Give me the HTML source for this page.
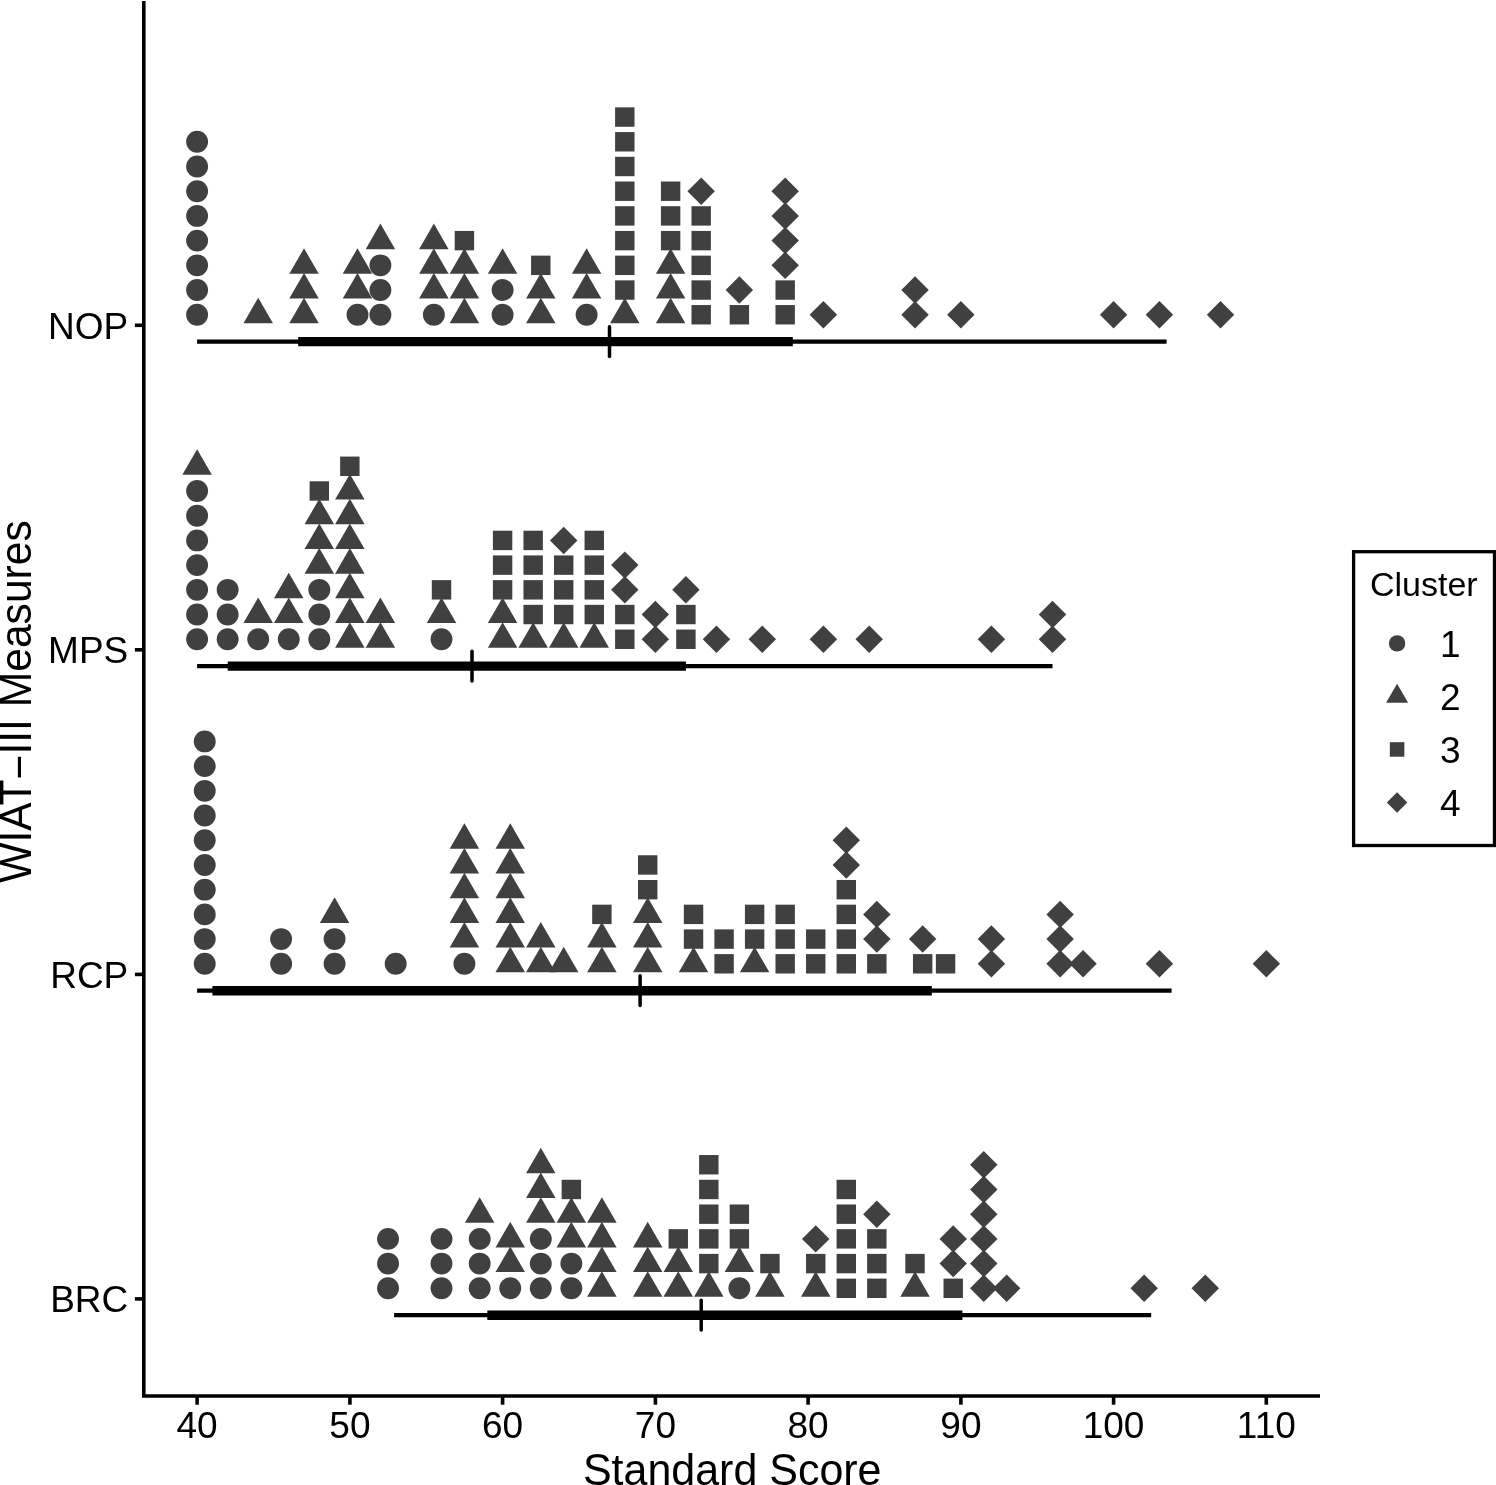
<!DOCTYPE html>
<html><head><meta charset="utf-8"><title>WIAT-III Measures</title>
<style>
html,body{margin:0;padding:0;background:#fff;}
body{width:1496px;height:1485px;overflow:hidden;}
svg{display:block;will-change:transform;}
text{font-family:"Liberation Sans",sans-serif;fill:#000;}
</style></head><body>
<svg width="1496" height="1485" viewBox="0 0 1496 1485">
<rect x="0" y="0" width="1496" height="1485" fill="#fff"/>
<g stroke="#000" stroke-width="3.6" fill="none">
<path d="M143.8 1V1396H1320" stroke-linejoin="miter"/>
<path d="M197.1 1396V1404.7"/>
<path d="M349.9 1396V1404.7"/>
<path d="M502.6 1396V1404.7"/>
<path d="M655.4 1396V1404.7"/>
<path d="M808.1 1396V1404.7"/>
<path d="M960.9 1396V1404.7"/>
<path d="M1113.6 1396V1404.7"/>
<path d="M1266.3 1396V1404.7"/>
<path d="M134.9 325.3H143.8"/>
<path d="M134.9 649.8H143.8"/>
<path d="M134.9 974.4H143.8"/>
<path d="M134.9 1298.9H143.8"/>
</g>
<g font-size="37" text-anchor="middle">
<text x="197.1" y="1438.4">40</text>
<text x="349.9" y="1438.4">50</text>
<text x="502.6" y="1438.4">60</text>
<text x="655.4" y="1438.4">70</text>
<text x="808.1" y="1438.4">80</text>
<text x="960.9" y="1438.4">90</text>
<text x="1113.6" y="1438.4">100</text>
<text x="1266.3" y="1438.4">110</text>
</g>
<g font-size="37" text-anchor="end">
<text x="128.3" y="338.7">NOP</text>
<text x="128.3" y="663.2">MPS</text>
<text x="128.3" y="987.8">RCP</text>
<text x="128.3" y="1312.3">BRC</text>
</g>
<text transform="translate(732.2 1485.1) scale(1 1.03)" font-size="43" text-anchor="middle">Standard Score</text>
<text transform="translate(31.3 701.5) rotate(-90) scale(1 1.03)" font-size="42.6" text-anchor="middle">WIAT<tspan dy="2.8">−</tspan><tspan dy="-2.8">III Measures</tspan></text>
<g stroke="#000" fill="none">
<path d="M197.1 341.6H1166.6" stroke-width="4.3"/>
<path d="M298.2 341.6H792.8" stroke-width="9.4"/>
<path d="M609.5 326.7V356.5" stroke-width="3.5" stroke-linecap="round"/>
<path d="M197.1 666.1H1052.5" stroke-width="4.3"/>
<path d="M227.7 666.1H685.9" stroke-width="9.4"/>
<path d="M472.0 651.2V681.0" stroke-width="3.5" stroke-linecap="round"/>
<path d="M197.1 990.7H1171.6" stroke-width="4.3"/>
<path d="M212.4 990.7H931.8" stroke-width="9.4"/>
<path d="M640.1 975.8V1005.6" stroke-width="3.5" stroke-linecap="round"/>
<path d="M394.1 1315.2H1151.2" stroke-width="4.3"/>
<path d="M487.3 1315.2H962.4" stroke-width="9.4"/>
<path d="M701.2 1300.3V1330.1" stroke-width="3.5" stroke-linecap="round"/>
</g>
<g fill="#404040">
<circle cx="197.1" cy="314.75" r="10.95"/>
<circle cx="197.1" cy="290.04" r="10.95"/>
<circle cx="197.1" cy="265.33" r="10.95"/>
<circle cx="197.1" cy="240.62" r="10.95"/>
<circle cx="197.1" cy="215.91" r="10.95"/>
<circle cx="197.1" cy="191.2" r="10.95"/>
<circle cx="197.1" cy="166.49" r="10.95"/>
<circle cx="197.1" cy="141.78" r="10.95"/>
<path d="M258.2 297.72L272.95 323.26L243.45 323.26Z"/>
<path d="M304.02 297.72L318.77 323.26L289.28 323.26Z"/>
<path d="M304.02 273.01L318.77 298.55L289.28 298.55Z"/>
<path d="M304.02 248.3L318.77 273.84L289.28 273.84Z"/>
<circle cx="357.49" cy="314.75" r="10.95"/>
<path d="M357.49 273.01L372.23 298.55L342.74 298.55Z"/>
<path d="M357.49 248.3L372.23 273.84L342.74 273.84Z"/>
<circle cx="380.4" cy="314.75" r="10.95"/>
<circle cx="380.4" cy="290.04" r="10.95"/>
<circle cx="380.4" cy="265.33" r="10.95"/>
<path d="M380.4 223.59L395.15 249.13L365.65 249.13Z"/>
<circle cx="433.86" cy="314.75" r="10.95"/>
<path d="M433.86 273.01L448.61 298.55L419.12 298.55Z"/>
<path d="M433.86 248.3L448.61 273.84L419.12 273.84Z"/>
<path d="M433.86 223.59L448.61 249.13L419.12 249.13Z"/>
<path d="M464.41 297.72L479.16 323.26L449.67 323.26Z"/>
<path d="M464.41 273.01L479.16 298.55L449.67 298.55Z"/>
<path d="M464.41 248.3L479.16 273.84L449.67 273.84Z"/>
<rect x="454.71" y="230.92" width="19.41" height="19.41"/>
<circle cx="502.6" cy="314.75" r="10.95"/>
<circle cx="502.6" cy="290.04" r="10.95"/>
<path d="M502.6 248.3L517.35 273.84L487.85 273.84Z"/>
<path d="M540.79 297.72L555.53 323.26L526.04 323.26Z"/>
<path d="M540.79 273.01L555.53 298.55L526.04 298.55Z"/>
<rect x="531.08" y="255.63" width="19.41" height="19.41"/>
<circle cx="586.61" cy="314.75" r="10.95"/>
<path d="M586.61 273.01L601.36 298.55L571.87 298.55Z"/>
<path d="M586.61 248.3L601.36 273.84L571.87 273.84Z"/>
<path d="M624.8 297.72L639.55 323.26L610.05 323.26Z"/>
<rect x="615.1" y="280.34" width="19.41" height="19.41"/>
<rect x="615.1" y="255.63" width="19.41" height="19.41"/>
<rect x="615.1" y="230.92" width="19.41" height="19.41"/>
<rect x="615.1" y="206.21" width="19.41" height="19.41"/>
<rect x="615.1" y="181.5" width="19.41" height="19.41"/>
<rect x="615.1" y="156.79" width="19.41" height="19.41"/>
<rect x="615.1" y="132.08" width="19.41" height="19.41"/>
<rect x="615.1" y="107.37" width="19.41" height="19.41"/>
<path d="M670.62 297.72L685.37 323.26L655.88 323.26Z"/>
<path d="M670.62 273.01L685.37 298.55L655.88 298.55Z"/>
<path d="M670.62 248.3L685.37 273.84L655.88 273.84Z"/>
<rect x="660.92" y="230.92" width="19.41" height="19.41"/>
<rect x="660.92" y="206.21" width="19.41" height="19.41"/>
<rect x="660.92" y="181.5" width="19.41" height="19.41"/>
<rect x="691.47" y="305.05" width="19.41" height="19.41"/>
<rect x="691.47" y="280.34" width="19.41" height="19.41"/>
<rect x="691.47" y="255.63" width="19.41" height="19.41"/>
<rect x="691.47" y="230.92" width="19.41" height="19.41"/>
<rect x="691.47" y="206.21" width="19.41" height="19.41"/>
<path d="M701.17 177.48L714.9 191.2L701.17 204.92L687.45 191.2Z"/>
<rect x="729.66" y="305.05" width="19.41" height="19.41"/>
<path d="M739.36 276.32L753.09 290.04L739.36 303.76L725.64 290.04Z"/>
<rect x="775.48" y="305.05" width="19.41" height="19.41"/>
<rect x="775.48" y="280.34" width="19.41" height="19.41"/>
<path d="M785.19 251.61L798.91 265.33L785.19 279.05L771.46 265.33Z"/>
<path d="M785.19 226.9L798.91 240.62L785.19 254.34L771.46 240.62Z"/>
<path d="M785.19 202.19L798.91 215.91L785.19 229.63L771.46 215.91Z"/>
<path d="M785.19 177.48L798.91 191.2L785.19 204.92L771.46 191.2Z"/>
<path d="M823.38 301.03L837.1 314.75L823.38 328.47L809.65 314.75Z"/>
<path d="M915.03 301.03L928.75 314.75L915.03 328.47L901.3 314.75Z"/>
<path d="M915.03 276.32L928.75 290.04L915.03 303.76L901.3 290.04Z"/>
<path d="M960.85 301.03L974.57 314.75L960.85 328.47L947.13 314.75Z"/>
<path d="M1113.6 301.03L1127.32 314.75L1113.6 328.47L1099.88 314.75Z"/>
<path d="M1159.42 301.03L1173.15 314.75L1159.42 328.47L1145.7 314.75Z"/>
<path d="M1220.53 301.03L1234.25 314.75L1220.53 328.47L1206.8 314.75Z"/>
<circle cx="197.1" cy="639.25" r="10.95"/>
<circle cx="197.1" cy="614.54" r="10.95"/>
<circle cx="197.1" cy="589.83" r="10.95"/>
<circle cx="197.1" cy="565.12" r="10.95"/>
<circle cx="197.1" cy="540.41" r="10.95"/>
<circle cx="197.1" cy="515.7" r="10.95"/>
<circle cx="197.1" cy="490.99" r="10.95"/>
<path d="M197.1 449.25L211.85 474.79L182.35 474.79Z"/>
<circle cx="227.65" cy="639.25" r="10.95"/>
<circle cx="227.65" cy="614.54" r="10.95"/>
<circle cx="227.65" cy="589.83" r="10.95"/>
<circle cx="258.2" cy="639.25" r="10.95"/>
<path d="M258.2 597.51L272.95 623.05L243.45 623.05Z"/>
<circle cx="288.75" cy="639.25" r="10.95"/>
<path d="M288.75 597.51L303.5 623.05L274 623.05Z"/>
<path d="M288.75 572.8L303.5 598.34L274 598.34Z"/>
<circle cx="319.3" cy="639.25" r="10.95"/>
<circle cx="319.3" cy="614.54" r="10.95"/>
<circle cx="319.3" cy="589.83" r="10.95"/>
<path d="M319.3 548.09L334.05 573.63L304.55 573.63Z"/>
<path d="M319.3 523.38L334.05 548.92L304.55 548.92Z"/>
<path d="M319.3 498.67L334.05 524.21L304.55 524.21Z"/>
<rect x="309.6" y="481.29" width="19.41" height="19.41"/>
<path d="M349.85 622.22L364.6 647.76L335.1 647.76Z"/>
<path d="M349.85 597.51L364.6 623.05L335.1 623.05Z"/>
<path d="M349.85 572.8L364.6 598.34L335.1 598.34Z"/>
<path d="M349.85 548.09L364.6 573.63L335.1 573.63Z"/>
<path d="M349.85 523.38L364.6 548.92L335.1 548.92Z"/>
<path d="M349.85 498.67L364.6 524.21L335.1 524.21Z"/>
<path d="M349.85 473.96L364.6 499.5L335.1 499.5Z"/>
<rect x="340.15" y="456.58" width="19.41" height="19.41"/>
<path d="M380.4 622.22L395.15 647.76L365.65 647.76Z"/>
<path d="M380.4 597.51L395.15 623.05L365.65 623.05Z"/>
<circle cx="441.5" cy="639.25" r="10.95"/>
<path d="M441.5 597.51L456.25 623.05L426.75 623.05Z"/>
<rect x="431.8" y="580.13" width="19.41" height="19.41"/>
<path d="M502.6 622.22L517.35 647.76L487.85 647.76Z"/>
<path d="M502.6 597.51L517.35 623.05L487.85 623.05Z"/>
<rect x="492.9" y="580.13" width="19.41" height="19.41"/>
<rect x="492.9" y="555.42" width="19.41" height="19.41"/>
<rect x="492.9" y="530.71" width="19.41" height="19.41"/>
<path d="M533.15 622.22L547.9 647.76L518.4 647.76Z"/>
<rect x="523.45" y="604.84" width="19.41" height="19.41"/>
<rect x="523.45" y="580.13" width="19.41" height="19.41"/>
<rect x="523.45" y="555.42" width="19.41" height="19.41"/>
<rect x="523.45" y="530.71" width="19.41" height="19.41"/>
<path d="M563.7 622.22L578.45 647.76L548.95 647.76Z"/>
<rect x="554" y="604.84" width="19.41" height="19.41"/>
<rect x="554" y="580.13" width="19.41" height="19.41"/>
<rect x="554" y="555.42" width="19.41" height="19.41"/>
<path d="M563.7 526.69L577.42 540.41L563.7 554.13L549.98 540.41Z"/>
<path d="M594.25 622.22L609 647.76L579.5 647.76Z"/>
<rect x="584.55" y="604.84" width="19.41" height="19.41"/>
<rect x="584.55" y="580.13" width="19.41" height="19.41"/>
<rect x="584.55" y="555.42" width="19.41" height="19.41"/>
<rect x="584.55" y="530.71" width="19.41" height="19.41"/>
<rect x="615.1" y="629.55" width="19.41" height="19.41"/>
<rect x="615.1" y="604.84" width="19.41" height="19.41"/>
<path d="M624.8 576.11L638.52 589.83L624.8 603.55L611.08 589.83Z"/>
<path d="M624.8 551.4L638.52 565.12L624.8 578.84L611.08 565.12Z"/>
<path d="M655.35 625.53L669.07 639.25L655.35 652.97L641.63 639.25Z"/>
<path d="M655.35 600.82L669.07 614.54L655.35 628.26L641.63 614.54Z"/>
<rect x="676.2" y="629.55" width="19.41" height="19.41"/>
<rect x="676.2" y="604.84" width="19.41" height="19.41"/>
<path d="M685.9 576.11L699.62 589.83L685.9 603.55L672.18 589.83Z"/>
<path d="M716.45 625.53L730.17 639.25L716.45 652.97L702.73 639.25Z"/>
<path d="M762.28 625.53L776 639.25L762.28 652.97L748.55 639.25Z"/>
<path d="M823.38 625.53L837.1 639.25L823.38 652.97L809.65 639.25Z"/>
<path d="M869.2 625.53L882.92 639.25L869.2 652.97L855.48 639.25Z"/>
<path d="M991.4 625.53L1005.12 639.25L991.4 652.97L977.68 639.25Z"/>
<path d="M1052.5 625.53L1066.22 639.25L1052.5 652.97L1038.78 639.25Z"/>
<path d="M1052.5 600.82L1066.22 614.54L1052.5 628.26L1038.78 614.54Z"/>
<circle cx="204.74" cy="963.8" r="10.95"/>
<circle cx="204.74" cy="939.09" r="10.95"/>
<circle cx="204.74" cy="914.38" r="10.95"/>
<circle cx="204.74" cy="889.67" r="10.95"/>
<circle cx="204.74" cy="864.96" r="10.95"/>
<circle cx="204.74" cy="840.25" r="10.95"/>
<circle cx="204.74" cy="815.54" r="10.95"/>
<circle cx="204.74" cy="790.83" r="10.95"/>
<circle cx="204.74" cy="766.12" r="10.95"/>
<circle cx="204.74" cy="741.41" r="10.95"/>
<circle cx="281.11" cy="963.8" r="10.95"/>
<circle cx="281.11" cy="939.09" r="10.95"/>
<circle cx="334.57" cy="963.8" r="10.95"/>
<circle cx="334.57" cy="939.09" r="10.95"/>
<path d="M334.57 897.35L349.32 922.89L319.83 922.89Z"/>
<circle cx="395.68" cy="963.8" r="10.95"/>
<circle cx="464.41" cy="963.8" r="10.95"/>
<path d="M464.41 922.06L479.16 947.6L449.67 947.6Z"/>
<path d="M464.41 897.35L479.16 922.89L449.67 922.89Z"/>
<path d="M464.41 872.64L479.16 898.18L449.67 898.18Z"/>
<path d="M464.41 847.93L479.16 873.47L449.67 873.47Z"/>
<path d="M464.41 823.22L479.16 848.76L449.67 848.76Z"/>
<path d="M510.24 946.77L524.98 972.31L495.49 972.31Z"/>
<path d="M510.24 922.06L524.98 947.6L495.49 947.6Z"/>
<path d="M510.24 897.35L524.98 922.89L495.49 922.89Z"/>
<path d="M510.24 872.64L524.98 898.18L495.49 898.18Z"/>
<path d="M510.24 847.93L524.98 873.47L495.49 873.47Z"/>
<path d="M510.24 823.22L524.98 848.76L495.49 848.76Z"/>
<path d="M540.79 946.77L555.53 972.31L526.04 972.31Z"/>
<path d="M540.79 922.06L555.53 947.6L526.04 947.6Z"/>
<path d="M563.7 946.77L578.45 972.31L548.95 972.31Z"/>
<path d="M601.89 946.77L616.63 972.31L587.14 972.31Z"/>
<path d="M601.89 922.06L616.63 947.6L587.14 947.6Z"/>
<rect x="592.18" y="904.68" width="19.41" height="19.41"/>
<path d="M647.71 946.77L662.46 972.31L632.97 972.31Z"/>
<path d="M647.71 922.06L662.46 947.6L632.97 947.6Z"/>
<path d="M647.71 897.35L662.46 922.89L632.97 922.89Z"/>
<rect x="638.01" y="879.97" width="19.41" height="19.41"/>
<rect x="638.01" y="855.26" width="19.41" height="19.41"/>
<path d="M693.54 946.77L708.28 972.31L678.79 972.31Z"/>
<rect x="683.83" y="929.39" width="19.41" height="19.41"/>
<rect x="683.83" y="904.68" width="19.41" height="19.41"/>
<rect x="714.38" y="954.1" width="19.41" height="19.41"/>
<rect x="714.38" y="929.39" width="19.41" height="19.41"/>
<path d="M754.64 946.77L769.38 972.31L739.89 972.31Z"/>
<rect x="744.93" y="929.39" width="19.41" height="19.41"/>
<rect x="744.93" y="904.68" width="19.41" height="19.41"/>
<rect x="775.48" y="954.1" width="19.41" height="19.41"/>
<rect x="775.48" y="929.39" width="19.41" height="19.41"/>
<rect x="775.48" y="904.68" width="19.41" height="19.41"/>
<rect x="806.03" y="954.1" width="19.41" height="19.41"/>
<rect x="806.03" y="929.39" width="19.41" height="19.41"/>
<rect x="836.58" y="954.1" width="19.41" height="19.41"/>
<rect x="836.58" y="929.39" width="19.41" height="19.41"/>
<rect x="836.58" y="904.68" width="19.41" height="19.41"/>
<rect x="836.58" y="879.97" width="19.41" height="19.41"/>
<path d="M846.29 851.24L860.01 864.96L846.29 878.68L832.56 864.96Z"/>
<path d="M846.29 826.53L860.01 840.25L846.29 853.97L832.56 840.25Z"/>
<rect x="867.13" y="954.1" width="19.41" height="19.41"/>
<path d="M876.84 925.37L890.56 939.09L876.84 952.81L863.11 939.09Z"/>
<path d="M876.84 900.66L890.56 914.38L876.84 928.1L863.11 914.38Z"/>
<rect x="912.96" y="954.1" width="19.41" height="19.41"/>
<path d="M922.66 925.37L936.39 939.09L922.66 952.81L908.94 939.09Z"/>
<rect x="935.87" y="954.1" width="19.41" height="19.41"/>
<path d="M991.4 950.08L1005.12 963.8L991.4 977.52L977.68 963.8Z"/>
<path d="M991.4 925.37L1005.12 939.09L991.4 952.81L977.68 939.09Z"/>
<path d="M1060.14 950.08L1073.86 963.8L1060.14 977.52L1046.41 963.8Z"/>
<path d="M1060.14 925.37L1073.86 939.09L1060.14 952.81L1046.41 939.09Z"/>
<path d="M1060.14 900.66L1073.86 914.38L1060.14 928.1L1046.41 914.38Z"/>
<path d="M1083.05 950.08L1096.77 963.8L1083.05 977.52L1069.33 963.8Z"/>
<path d="M1159.42 950.08L1173.15 963.8L1159.42 977.52L1145.7 963.8Z"/>
<path d="M1266.35 950.08L1280.07 963.8L1266.35 977.52L1252.63 963.8Z"/>
<circle cx="388.04" cy="1288.3" r="10.95"/>
<circle cx="388.04" cy="1263.59" r="10.95"/>
<circle cx="388.04" cy="1238.88" r="10.95"/>
<circle cx="441.5" cy="1288.3" r="10.95"/>
<circle cx="441.5" cy="1263.59" r="10.95"/>
<circle cx="441.5" cy="1238.88" r="10.95"/>
<circle cx="479.69" cy="1288.3" r="10.95"/>
<circle cx="479.69" cy="1263.59" r="10.95"/>
<circle cx="479.69" cy="1238.88" r="10.95"/>
<path d="M479.69 1197.14L494.43 1222.68L464.94 1222.68Z"/>
<circle cx="510.24" cy="1288.3" r="10.95"/>
<path d="M510.24 1246.56L524.98 1272.1L495.49 1272.1Z"/>
<path d="M510.24 1221.85L524.98 1247.39L495.49 1247.39Z"/>
<circle cx="540.79" cy="1288.3" r="10.95"/>
<circle cx="540.79" cy="1263.59" r="10.95"/>
<circle cx="540.79" cy="1238.88" r="10.95"/>
<path d="M540.79 1197.14L555.53 1222.68L526.04 1222.68Z"/>
<path d="M540.79 1172.43L555.53 1197.97L526.04 1197.97Z"/>
<path d="M540.79 1147.72L555.53 1173.26L526.04 1173.26Z"/>
<circle cx="571.34" cy="1288.3" r="10.95"/>
<circle cx="571.34" cy="1263.59" r="10.95"/>
<path d="M571.34 1221.85L586.08 1247.39L556.59 1247.39Z"/>
<path d="M571.34 1197.14L586.08 1222.68L556.59 1222.68Z"/>
<rect x="561.63" y="1179.76" width="19.41" height="19.41"/>
<path d="M601.89 1271.27L616.63 1296.81L587.14 1296.81Z"/>
<path d="M601.89 1246.56L616.63 1272.1L587.14 1272.1Z"/>
<path d="M601.89 1221.85L616.63 1247.39L587.14 1247.39Z"/>
<path d="M601.89 1197.14L616.63 1222.68L587.14 1222.68Z"/>
<path d="M647.71 1271.27L662.46 1296.81L632.97 1296.81Z"/>
<path d="M647.71 1246.56L662.46 1272.1L632.97 1272.1Z"/>
<path d="M647.71 1221.85L662.46 1247.39L632.97 1247.39Z"/>
<path d="M678.26 1271.27L693.01 1296.81L663.52 1296.81Z"/>
<path d="M678.26 1246.56L693.01 1272.1L663.52 1272.1Z"/>
<rect x="668.56" y="1229.18" width="19.41" height="19.41"/>
<path d="M708.81 1271.27L723.56 1296.81L694.07 1296.81Z"/>
<rect x="699.11" y="1253.89" width="19.41" height="19.41"/>
<rect x="699.11" y="1229.18" width="19.41" height="19.41"/>
<rect x="699.11" y="1204.47" width="19.41" height="19.41"/>
<rect x="699.11" y="1179.76" width="19.41" height="19.41"/>
<rect x="699.11" y="1155.05" width="19.41" height="19.41"/>
<circle cx="739.36" cy="1288.3" r="10.95"/>
<path d="M739.36 1246.56L754.11 1272.1L724.62 1272.1Z"/>
<rect x="729.66" y="1229.18" width="19.41" height="19.41"/>
<rect x="729.66" y="1204.47" width="19.41" height="19.41"/>
<path d="M769.91 1271.27L784.66 1296.81L755.17 1296.81Z"/>
<rect x="760.21" y="1253.89" width="19.41" height="19.41"/>
<path d="M815.74 1271.27L830.48 1296.81L800.99 1296.81Z"/>
<rect x="806.03" y="1253.89" width="19.41" height="19.41"/>
<path d="M815.74 1225.16L829.46 1238.88L815.74 1252.6L802.01 1238.88Z"/>
<rect x="836.58" y="1278.6" width="19.41" height="19.41"/>
<rect x="836.58" y="1253.89" width="19.41" height="19.41"/>
<rect x="836.58" y="1229.18" width="19.41" height="19.41"/>
<rect x="836.58" y="1204.47" width="19.41" height="19.41"/>
<rect x="836.58" y="1179.76" width="19.41" height="19.41"/>
<rect x="867.13" y="1278.6" width="19.41" height="19.41"/>
<rect x="867.13" y="1253.89" width="19.41" height="19.41"/>
<rect x="867.13" y="1229.18" width="19.41" height="19.41"/>
<path d="M876.84 1200.45L890.56 1214.17L876.84 1227.89L863.11 1214.17Z"/>
<path d="M915.03 1271.27L929.77 1296.81L900.28 1296.81Z"/>
<rect x="905.32" y="1253.89" width="19.41" height="19.41"/>
<rect x="943.51" y="1278.6" width="19.41" height="19.41"/>
<path d="M953.21 1249.87L966.94 1263.59L953.21 1277.31L939.49 1263.59Z"/>
<path d="M953.21 1225.16L966.94 1238.88L953.21 1252.6L939.49 1238.88Z"/>
<path d="M983.76 1274.58L997.49 1288.3L983.76 1302.02L970.04 1288.3Z"/>
<path d="M983.76 1249.87L997.49 1263.59L983.76 1277.31L970.04 1263.59Z"/>
<path d="M983.76 1225.16L997.49 1238.88L983.76 1252.6L970.04 1238.88Z"/>
<path d="M983.76 1200.45L997.49 1214.17L983.76 1227.89L970.04 1214.17Z"/>
<path d="M983.76 1175.74L997.49 1189.46L983.76 1203.18L970.04 1189.46Z"/>
<path d="M983.76 1151.03L997.49 1164.75L983.76 1178.47L970.04 1164.75Z"/>
<path d="M1006.68 1274.58L1020.4 1288.3L1006.68 1302.02L992.95 1288.3Z"/>
<path d="M1144.15 1274.58L1157.87 1288.3L1144.15 1302.02L1130.43 1288.3Z"/>
<path d="M1205.25 1274.58L1218.97 1288.3L1205.25 1302.02L1191.53 1288.3Z"/>
</g>
<rect x="1353.6" y="551.7" width="140.9" height="293.8" fill="#fff" stroke="#000" stroke-width="3.3"/>
<text x="1370" y="595.6" font-size="34">Cluster</text>
<g fill="#404040">
<circle cx="1397.1" cy="643.4" r="8.2"/>
<path d="M1397.1 683.68L1408.14 702.81L1386.06 702.81Z"/>
<rect x="1389.83" y="742.19" width="14.53" height="14.53"/>
<path d="M1397.1 792.21L1407.38 802.49L1397.1 812.77L1386.82 802.49Z"/>
</g>
<g font-size="37">
<text x="1440" y="656.6">1</text>
<text x="1440" y="709.6">2</text>
<text x="1440" y="762.7">3</text>
<text x="1440" y="815.7">4</text>
</g>
</svg></body></html>
